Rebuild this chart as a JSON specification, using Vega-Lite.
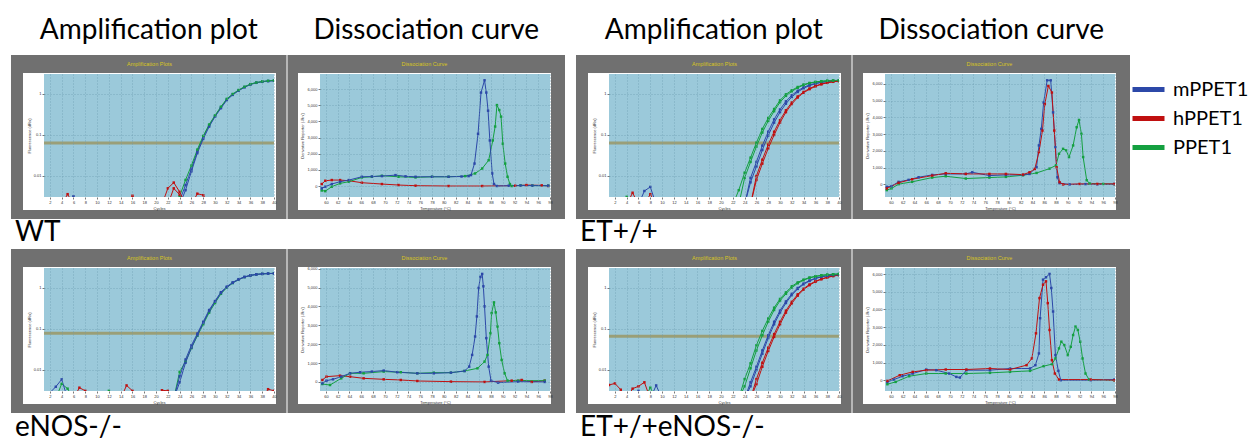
{
"$schema": "https://vega.github.io/schema/vega-lite/v6.json",
"background": "white",
"padding": {"left": 10, "top": 16, "right": 0, "bottom": 0},
"config": {
 "view": {"stroke": null},
 "font": "Lato",
 "title": {"font": "Lato", "fontSize": 28, "fontWeight": "normal", "color": "#000000", "frame": "bounds"},
 "axis": {"labelFontSize": 4, "labelFont": "Liberation Sans", "labelColor": "#333333", "titleFontSize": 4, "titleFont": "Liberation Sans", "titleFontWeight": "normal", "titleColor": "#333333", "domain": false, "tickSize": 2, "tickColor": "#555555", "tickWidth": 0.8, "labelPadding": 1, "titlePadding": 2, "grid": true, "gridColor": "#6b9cb0", "gridDash": [1, 2], "gridWidth": 0.7, "labelFlush": false},
 "legend": {"orient": "none", "legendX": 1086, "legendY": -3, "symbolType": "stroke", "symbolSize": 1024, "symbolStrokeWidth": 5, "labelFont": "Lato", "labelFontSize": 20, "labelColor": "#000000", "rowPadding": -5, "labelOffset": 6, "padding": 0}
},
"datasets": {
 "ampWT": [
  {"g":"mPPET1","r":1,"x":4,"y":0.002},{"g":"mPPET1","r":1,"x":6,"y":0.0032},{"g":"mPPET1","r":1,"x":7,"y":0.002},{"g":"mPPET1","r":1,"x":23,"y":0.002},{"g":"mPPET1","r":1,"x":24,"y":0.0025},{"g":"mPPET1","r":1,"x":25,"y":0.006},{"g":"mPPET1","r":1,"x":26,"y":0.015},{"g":"mPPET1","r":1,"x":27,"y":0.04},{"g":"mPPET1","r":1,"x":28,"y":0.088},{"g":"mPPET1","r":1,"x":29,"y":0.17},{"g":"mPPET1","r":1,"x":30,"y":0.29},{"g":"mPPET1","r":1,"x":31,"y":0.47},{"g":"mPPET1","r":1,"x":32,"y":0.74},{"g":"mPPET1","r":1,"x":33,"y":0.98},{"g":"mPPET1","r":1,"x":34,"y":1.23},{"g":"mPPET1","r":1,"x":35,"y":1.48},{"g":"mPPET1","r":1,"x":36,"y":1.73},{"g":"mPPET1","r":1,"x":37,"y":1.89},{"g":"mPPET1","r":1,"x":38,"y":2.0},{"g":"mPPET1","r":1,"x":39,"y":2.07},{"g":"mPPET1","r":1,"x":40,"y":2.12},
  {"g":"mPPET1","r":2,"x":24,"y":0.002},{"g":"mPPET1","r":2,"x":25,"y":0.0045},{"g":"mPPET1","r":2,"x":26,"y":0.013},{"g":"mPPET1","r":2,"x":27,"y":0.036},{"g":"mPPET1","r":2,"x":28,"y":0.08},{"g":"mPPET1","r":2,"x":29,"y":0.16},{"g":"mPPET1","r":2,"x":30,"y":0.28},{"g":"mPPET1","r":2,"x":31,"y":0.45},{"g":"mPPET1","r":2,"x":32,"y":0.71},{"g":"mPPET1","r":2,"x":33,"y":0.95},{"g":"mPPET1","r":2,"x":34,"y":1.2},{"g":"mPPET1","r":2,"x":35,"y":1.45},{"g":"mPPET1","r":2,"x":36,"y":1.7},{"g":"mPPET1","r":2,"x":37,"y":1.87},{"g":"mPPET1","r":2,"x":38,"y":1.98},{"g":"mPPET1","r":2,"x":39,"y":2.06},{"g":"mPPET1","r":2,"x":40,"y":2.11},
  {"g":"PPET1","r":1,"x":23,"y":0.002},{"g":"PPET1","r":1,"x":24,"y":0.0032},{"g":"PPET1","r":1,"x":25,"y":0.008},{"g":"PPET1","r":1,"x":26,"y":0.018},{"g":"PPET1","r":1,"x":27,"y":0.044},{"g":"PPET1","r":1,"x":28,"y":0.095},{"g":"PPET1","r":1,"x":29,"y":0.18},{"g":"PPET1","r":1,"x":30,"y":0.3},{"g":"PPET1","r":1,"x":31,"y":0.49},{"g":"PPET1","r":1,"x":32,"y":0.76},{"g":"PPET1","r":1,"x":33,"y":1.0},{"g":"PPET1","r":1,"x":34,"y":1.25},{"g":"PPET1","r":1,"x":35,"y":1.5},{"g":"PPET1","r":1,"x":36,"y":1.74},{"g":"PPET1","r":1,"x":37,"y":1.9},{"g":"PPET1","r":1,"x":38,"y":2.02},{"g":"PPET1","r":1,"x":39,"y":2.09},{"g":"PPET1","r":1,"x":40,"y":2.14},
  {"g":"hPPET1","r":1,"x":4,"y":0.002},{"g":"hPPET1","r":1,"x":5,"y":0.0036},{"g":"hPPET1","r":1,"x":6,"y":0.002},{"g":"hPPET1","r":1,"x":15,"y":0.002},{"g":"hPPET1","r":1,"x":16,"y":0.0033},{"g":"hPPET1","r":1,"x":17,"y":0.002},{"g":"hPPET1","r":1,"x":21,"y":0.002},{"g":"hPPET1","r":1,"x":22,"y":0.005},{"g":"hPPET1","r":1,"x":23,"y":0.0069},{"g":"hPPET1","r":1,"x":24,"y":0.0041},{"g":"hPPET1","r":1,"x":25,"y":0.002},{"g":"hPPET1","r":1,"x":26,"y":0.002},{"g":"hPPET1","r":1,"x":27,"y":0.0037},{"g":"hPPET1","r":1,"x":28,"y":0.0034},{"g":"hPPET1","r":1,"x":29,"y":0.002},
  {"g":"hPPET1","r":2,"x":22,"y":0.002},{"g":"hPPET1","r":2,"x":23,"y":0.005},{"g":"hPPET1","r":2,"x":24,"y":0.0035},{"g":"hPPET1","r":2,"x":25,"y":0.002}
 ],
 "ampET": [
  {"g":"mPPET1","r":1,"x":6,"y":0.002},{"g":"mPPET1","r":1,"x":7,"y":0.0043},{"g":"mPPET1","r":1,"x":8,"y":0.0054},{"g":"mPPET1","r":1,"x":9,"y":0.002},{"g":"mPPET1","r":1,"x":24,"y":0.002},{"g":"mPPET1","r":1,"x":25,"y":0.009},{"g":"mPPET1","r":1,"x":26,"y":0.022},{"g":"mPPET1","r":1,"x":27,"y":0.055},{"g":"mPPET1","r":1,"x":28,"y":0.12},{"g":"mPPET1","r":1,"x":29,"y":0.24},{"g":"mPPET1","r":1,"x":30,"y":0.42},{"g":"mPPET1","r":1,"x":31,"y":0.66},{"g":"mPPET1","r":1,"x":32,"y":0.93},{"g":"mPPET1","r":1,"x":33,"y":1.2},{"g":"mPPET1","r":1,"x":34,"y":1.45},{"g":"mPPET1","r":1,"x":35,"y":1.66},{"g":"mPPET1","r":1,"x":36,"y":1.82},{"g":"mPPET1","r":1,"x":37,"y":1.94},{"g":"mPPET1","r":1,"x":38,"y":2.03},{"g":"mPPET1","r":1,"x":39,"y":2.09},{"g":"mPPET1","r":1,"x":40,"y":2.13},
  {"g":"mPPET1","r":2,"x":24,"y":0.002},{"g":"mPPET1","r":2,"x":25,"y":0.007},{"g":"mPPET1","r":2,"x":26,"y":0.017},{"g":"mPPET1","r":2,"x":27,"y":0.043},{"g":"mPPET1","r":2,"x":28,"y":0.097},{"g":"mPPET1","r":2,"x":29,"y":0.2},{"g":"mPPET1","r":2,"x":30,"y":0.36},{"g":"mPPET1","r":2,"x":31,"y":0.58},{"g":"mPPET1","r":2,"x":32,"y":0.85},{"g":"mPPET1","r":2,"x":33,"y":1.12},{"g":"mPPET1","r":2,"x":34,"y":1.38},{"g":"mPPET1","r":2,"x":35,"y":1.6},{"g":"mPPET1","r":2,"x":36,"y":1.78},{"g":"mPPET1","r":2,"x":37,"y":1.91},{"g":"mPPET1","r":2,"x":38,"y":2.0},{"g":"mPPET1","r":2,"x":39,"y":2.07},{"g":"mPPET1","r":2,"x":40,"y":2.12},
  {"g":"hPPET1","r":1,"x":4,"y":0.002},{"g":"hPPET1","r":1,"x":5,"y":0.0039},{"g":"hPPET1","r":1,"x":6,"y":0.002},{"g":"hPPET1","r":1,"x":25,"y":0.002},{"g":"hPPET1","r":1,"x":26,"y":0.01},{"g":"hPPET1","r":1,"x":27,"y":0.025},{"g":"hPPET1","r":1,"x":28,"y":0.058},{"g":"hPPET1","r":1,"x":29,"y":0.12},{"g":"hPPET1","r":1,"x":30,"y":0.23},{"g":"hPPET1","r":1,"x":31,"y":0.4},{"g":"hPPET1","r":1,"x":32,"y":0.62},{"g":"hPPET1","r":1,"x":33,"y":0.87},{"g":"hPPET1","r":1,"x":34,"y":1.12},{"g":"hPPET1","r":1,"x":35,"y":1.36},{"g":"hPPET1","r":1,"x":36,"y":1.57},{"g":"hPPET1","r":1,"x":37,"y":1.75},{"g":"hPPET1","r":1,"x":38,"y":1.89},{"g":"hPPET1","r":1,"x":39,"y":2.0},{"g":"hPPET1","r":1,"x":40,"y":2.08},
  {"g":"hPPET1","r":2,"x":7,"y":0.002},{"g":"hPPET1","r":2,"x":8,"y":0.0036},{"g":"hPPET1","r":2,"x":9,"y":0.002},{"g":"hPPET1","r":2,"x":25,"y":0.002},{"g":"hPPET1","r":2,"x":26,"y":0.008},{"g":"hPPET1","r":2,"x":27,"y":0.02},{"g":"hPPET1","r":2,"x":28,"y":0.047},{"g":"hPPET1","r":2,"x":29,"y":0.1},{"g":"hPPET1","r":2,"x":30,"y":0.2},{"g":"hPPET1","r":2,"x":31,"y":0.36},{"g":"hPPET1","r":2,"x":32,"y":0.57},{"g":"hPPET1","r":2,"x":33,"y":0.82},{"g":"hPPET1","r":2,"x":34,"y":1.07},{"g":"hPPET1","r":2,"x":35,"y":1.31},{"g":"hPPET1","r":2,"x":36,"y":1.53},{"g":"hPPET1","r":2,"x":37,"y":1.72},{"g":"hPPET1","r":2,"x":38,"y":1.87},{"g":"hPPET1","r":2,"x":39,"y":1.98},{"g":"hPPET1","r":2,"x":40,"y":2.06},
  {"g":"PPET1","r":1,"x":3,"y":0.002},{"g":"PPET1","r":1,"x":4,"y":0.0031},{"g":"PPET1","r":1,"x":5,"y":0.002},{"g":"PPET1","r":1,"x":22,"y":0.002},{"g":"PPET1","r":1,"x":23,"y":0.0045},{"g":"PPET1","r":1,"x":24,"y":0.012},{"g":"PPET1","r":1,"x":25,"y":0.028},{"g":"PPET1","r":1,"x":26,"y":0.065},{"g":"PPET1","r":1,"x":27,"y":0.14},{"g":"PPET1","r":1,"x":28,"y":0.26},{"g":"PPET1","r":1,"x":29,"y":0.43},{"g":"PPET1","r":1,"x":30,"y":0.7},{"g":"PPET1","r":1,"x":31,"y":0.98},{"g":"PPET1","r":1,"x":32,"y":1.23},{"g":"PPET1","r":1,"x":33,"y":1.48},{"g":"PPET1","r":1,"x":34,"y":1.7},{"g":"PPET1","r":1,"x":35,"y":1.86},{"g":"PPET1","r":1,"x":36,"y":1.97},{"g":"PPET1","r":1,"x":37,"y":2.05},{"g":"PPET1","r":1,"x":38,"y":2.1},{"g":"PPET1","r":1,"x":39,"y":2.13},{"g":"PPET1","r":1,"x":40,"y":2.15},
  {"g":"PPET1","r":2,"x":23,"y":0.002},{"g":"PPET1","r":2,"x":24,"y":0.009},{"g":"PPET1","r":2,"x":25,"y":0.022},{"g":"PPET1","r":2,"x":26,"y":0.052},{"g":"PPET1","r":2,"x":27,"y":0.115},{"g":"PPET1","r":2,"x":28,"y":0.22},{"g":"PPET1","r":2,"x":29,"y":0.38},{"g":"PPET1","r":2,"x":30,"y":0.63},{"g":"PPET1","r":2,"x":31,"y":0.9},{"g":"PPET1","r":2,"x":32,"y":1.16},{"g":"PPET1","r":2,"x":33,"y":1.42},{"g":"PPET1","r":2,"x":34,"y":1.65},{"g":"PPET1","r":2,"x":35,"y":1.83},{"g":"PPET1","r":2,"x":36,"y":1.95},{"g":"PPET1","r":2,"x":37,"y":2.03},{"g":"PPET1","r":2,"x":38,"y":2.09},{"g":"PPET1","r":2,"x":39,"y":2.12},{"g":"PPET1","r":2,"x":40,"y":2.14}
 ],
 "ampENOS": [
  {"g":"hPPET1","r":1,"x":6,"y":0.002},{"g":"hPPET1","r":1,"x":7,"y":0.0037},{"g":"hPPET1","r":1,"x":8,"y":0.0031},{"g":"hPPET1","r":1,"x":9,"y":0.002},{"g":"hPPET1","r":1,"x":14,"y":0.002},{"g":"hPPET1","r":1,"x":15,"y":0.0042},{"g":"hPPET1","r":1,"x":16,"y":0.0031},{"g":"hPPET1","r":1,"x":17,"y":0.002},{"g":"hPPET1","r":1,"x":20,"y":0.002},{"g":"hPPET1","r":1,"x":21,"y":0.0032},{"g":"hPPET1","r":1,"x":22,"y":0.0031},{"g":"hPPET1","r":1,"x":23,"y":0.002},{"g":"hPPET1","r":1,"x":38,"y":0.002},{"g":"hPPET1","r":1,"x":39,"y":0.0034},{"g":"hPPET1","r":1,"x":40,"y":0.0031},
  {"g":"PPET1","r":1,"x":3,"y":0.002},{"g":"PPET1","r":1,"x":4,"y":0.0046},{"g":"PPET1","r":1,"x":5,"y":0.0035},{"g":"PPET1","r":1,"x":6,"y":0.002},{"g":"PPET1","r":1,"x":11,"y":0.002},{"g":"PPET1","r":1,"x":12,"y":0.0031},{"g":"PPET1","r":1,"x":13,"y":0.002},{"g":"PPET1","r":1,"x":23,"y":0.002},{"g":"PPET1","r":1,"x":24,"y":0.009},{"g":"PPET1","r":1,"x":25,"y":0.016},{"g":"PPET1","r":1,"x":26,"y":0.034},{"g":"PPET1","r":1,"x":27,"y":0.068},{"g":"PPET1","r":1,"x":28,"y":0.13},{"g":"PPET1","r":1,"x":29,"y":0.25},{"g":"PPET1","r":1,"x":30,"y":0.43},{"g":"PPET1","r":1,"x":31,"y":0.72},{"g":"PPET1","r":1,"x":32,"y":1.02},{"g":"PPET1","r":1,"x":33,"y":1.32},{"g":"PPET1","r":1,"x":34,"y":1.6},{"g":"PPET1","r":1,"x":35,"y":1.84},{"g":"PPET1","r":1,"x":36,"y":2.02},{"g":"PPET1","r":1,"x":37,"y":2.14},{"g":"PPET1","r":1,"x":38,"y":2.21},{"g":"PPET1","r":1,"x":39,"y":2.25},{"g":"PPET1","r":1,"x":40,"y":2.28},
  {"g":"mPPET1","r":1,"x":1,"y":0.002},{"g":"mPPET1","r":1,"x":3,"y":0.0039},{"g":"mPPET1","r":1,"x":4,"y":0.0059},{"g":"mPPET1","r":1,"x":5,"y":0.002},{"g":"mPPET1","r":1,"x":23,"y":0.002},{"g":"mPPET1","r":1,"x":24,"y":0.007},{"g":"mPPET1","r":1,"x":25,"y":0.018},{"g":"mPPET1","r":1,"x":26,"y":0.04},{"g":"mPPET1","r":1,"x":27,"y":0.077},{"g":"mPPET1","r":1,"x":28,"y":0.15},{"g":"mPPET1","r":1,"x":29,"y":0.29},{"g":"mPPET1","r":1,"x":30,"y":0.48},{"g":"mPPET1","r":1,"x":31,"y":0.79},{"g":"mPPET1","r":1,"x":32,"y":1.08},{"g":"mPPET1","r":1,"x":33,"y":1.37},{"g":"mPPET1","r":1,"x":34,"y":1.64},{"g":"mPPET1","r":1,"x":35,"y":1.87},{"g":"mPPET1","r":1,"x":36,"y":2.04},{"g":"mPPET1","r":1,"x":37,"y":2.15},{"g":"mPPET1","r":1,"x":38,"y":2.21},{"g":"mPPET1","r":1,"x":39,"y":2.25},{"g":"mPPET1","r":1,"x":40,"y":2.27},
  {"g":"mPPET1","r":2,"x":23,"y":0.002},{"g":"mPPET1","r":2,"x":24,"y":0.005},{"g":"mPPET1","r":2,"x":25,"y":0.015},{"g":"mPPET1","r":2,"x":26,"y":0.035},{"g":"mPPET1","r":2,"x":27,"y":0.07},{"g":"mPPET1","r":2,"x":28,"y":0.14},{"g":"mPPET1","r":2,"x":29,"y":0.27},{"g":"mPPET1","r":2,"x":30,"y":0.46},{"g":"mPPET1","r":2,"x":31,"y":0.75},{"g":"mPPET1","r":2,"x":32,"y":1.04},{"g":"mPPET1","r":2,"x":33,"y":1.33},{"g":"mPPET1","r":2,"x":34,"y":1.6},{"g":"mPPET1","r":2,"x":35,"y":1.84},{"g":"mPPET1","r":2,"x":36,"y":2.01},{"g":"mPPET1","r":2,"x":37,"y":2.13},{"g":"mPPET1","r":2,"x":38,"y":2.2},{"g":"mPPET1","r":2,"x":39,"y":2.24},{"g":"mPPET1","r":2,"x":40,"y":2.26}
 ],
 "ampETE": [
  {"g":"hPPET1","r":1,"x":1,"y":0.0043},{"g":"hPPET1","r":1,"x":2,"y":0.0047},{"g":"hPPET1","r":1,"x":3,"y":0.0033},{"g":"hPPET1","r":1,"x":4,"y":0.002},{"g":"hPPET1","r":1,"x":5,"y":0.0035},{"g":"hPPET1","r":1,"x":6,"y":0.004},{"g":"hPPET1","r":1,"x":7,"y":0.005},{"g":"hPPET1","r":1,"x":8,"y":0.002},{"g":"hPPET1","r":1,"x":25,"y":0.002},{"g":"hPPET1","r":1,"x":26,"y":0.006},{"g":"hPPET1","r":1,"x":27,"y":0.015},{"g":"hPPET1","r":1,"x":28,"y":0.035},{"g":"hPPET1","r":1,"x":29,"y":0.075},{"g":"hPPET1","r":1,"x":30,"y":0.15},{"g":"hPPET1","r":1,"x":31,"y":0.28},{"g":"hPPET1","r":1,"x":32,"y":0.46},{"g":"hPPET1","r":1,"x":33,"y":0.7},{"g":"hPPET1","r":1,"x":34,"y":0.96},{"g":"hPPET1","r":1,"x":35,"y":1.22},{"g":"hPPET1","r":1,"x":36,"y":1.46},{"g":"hPPET1","r":1,"x":37,"y":1.66},{"g":"hPPET1","r":1,"x":38,"y":1.83},{"g":"hPPET1","r":1,"x":39,"y":1.97},{"g":"hPPET1","r":1,"x":40,"y":2.07},
  {"g":"hPPET1","r":2,"x":25,"y":0.002},{"g":"hPPET1","r":2,"x":26,"y":0.0045},{"g":"hPPET1","r":2,"x":27,"y":0.012},{"g":"hPPET1","r":2,"x":28,"y":0.029},{"g":"hPPET1","r":2,"x":29,"y":0.064},{"g":"hPPET1","r":2,"x":30,"y":0.13},{"g":"hPPET1","r":2,"x":31,"y":0.25},{"g":"hPPET1","r":2,"x":32,"y":0.42},{"g":"hPPET1","r":2,"x":33,"y":0.65},{"g":"hPPET1","r":2,"x":34,"y":0.91},{"g":"hPPET1","r":2,"x":35,"y":1.17},{"g":"hPPET1","r":2,"x":36,"y":1.42},{"g":"hPPET1","r":2,"x":37,"y":1.63},{"g":"hPPET1","r":2,"x":38,"y":1.8},{"g":"hPPET1","r":2,"x":39,"y":1.95},{"g":"hPPET1","r":2,"x":40,"y":2.06},
  {"g":"mPPET1","r":1,"x":5,"y":0.002},{"g":"mPPET1","r":1,"x":6,"y":0.0031},{"g":"mPPET1","r":1,"x":7,"y":0.002},{"g":"mPPET1","r":1,"x":8,"y":0.002},{"g":"mPPET1","r":1,"x":9,"y":0.0042},{"g":"mPPET1","r":1,"x":10,"y":0.002},{"g":"mPPET1","r":1,"x":24,"y":0.002},{"g":"mPPET1","r":1,"x":25,"y":0.005},{"g":"mPPET1","r":1,"x":26,"y":0.012},{"g":"mPPET1","r":1,"x":27,"y":0.03},{"g":"mPPET1","r":1,"x":28,"y":0.07},{"g":"mPPET1","r":1,"x":29,"y":0.15},{"g":"mPPET1","r":1,"x":30,"y":0.28},{"g":"mPPET1","r":1,"x":31,"y":0.47},{"g":"mPPET1","r":1,"x":32,"y":0.72},{"g":"mPPET1","r":1,"x":33,"y":1.0},{"g":"mPPET1","r":1,"x":34,"y":1.28},{"g":"mPPET1","r":1,"x":35,"y":1.52},{"g":"mPPET1","r":1,"x":36,"y":1.73},{"g":"mPPET1","r":1,"x":37,"y":1.88},{"g":"mPPET1","r":1,"x":38,"y":2.0},{"g":"mPPET1","r":1,"x":39,"y":2.08},{"g":"mPPET1","r":1,"x":40,"y":2.14},
  {"g":"mPPET1","r":2,"x":24,"y":0.002},{"g":"mPPET1","r":2,"x":25,"y":0.004},{"g":"mPPET1","r":2,"x":26,"y":0.01},{"g":"mPPET1","r":2,"x":27,"y":0.025},{"g":"mPPET1","r":2,"x":28,"y":0.06},{"g":"mPPET1","r":2,"x":29,"y":0.13},{"g":"mPPET1","r":2,"x":30,"y":0.25},{"g":"mPPET1","r":2,"x":31,"y":0.43},{"g":"mPPET1","r":2,"x":32,"y":0.67},{"g":"mPPET1","r":2,"x":33,"y":0.95},{"g":"mPPET1","r":2,"x":34,"y":1.23},{"g":"mPPET1","r":2,"x":35,"y":1.48},{"g":"mPPET1","r":2,"x":36,"y":1.7},{"g":"mPPET1","r":2,"x":37,"y":1.86},{"g":"mPPET1","r":2,"x":38,"y":1.98},{"g":"mPPET1","r":2,"x":39,"y":2.07},{"g":"mPPET1","r":2,"x":40,"y":2.13},
  {"g":"PPET1","r":1,"x":7,"y":0.002},{"g":"PPET1","r":1,"x":8,"y":0.0037},{"g":"PPET1","r":1,"x":9,"y":0.002},{"g":"PPET1","r":1,"x":23,"y":0.002},{"g":"PPET1","r":1,"x":24,"y":0.006},{"g":"PPET1","r":1,"x":25,"y":0.0145},{"g":"PPET1","r":1,"x":26,"y":0.04},{"g":"PPET1","r":1,"x":27,"y":0.09},{"g":"PPET1","r":1,"x":28,"y":0.18},{"g":"PPET1","r":1,"x":29,"y":0.33},{"g":"PPET1","r":1,"x":30,"y":0.54},{"g":"PPET1","r":1,"x":31,"y":0.78},{"g":"PPET1","r":1,"x":32,"y":1.1},{"g":"PPET1","r":1,"x":33,"y":1.37},{"g":"PPET1","r":1,"x":34,"y":1.6},{"g":"PPET1","r":1,"x":35,"y":1.8},{"g":"PPET1","r":1,"x":36,"y":1.93},{"g":"PPET1","r":1,"x":37,"y":2.04},{"g":"PPET1","r":1,"x":38,"y":2.11},{"g":"PPET1","r":1,"x":39,"y":2.16},{"g":"PPET1","r":1,"x":40,"y":2.2},
  {"g":"PPET1","r":2,"x":23,"y":0.002},{"g":"PPET1","r":2,"x":24,"y":0.004},{"g":"PPET1","r":2,"x":25,"y":0.011},{"g":"PPET1","r":2,"x":26,"y":0.03},{"g":"PPET1","r":2,"x":27,"y":0.07},{"g":"PPET1","r":2,"x":28,"y":0.15},{"g":"PPET1","r":2,"x":29,"y":0.29},{"g":"PPET1","r":2,"x":30,"y":0.49},{"g":"PPET1","r":2,"x":31,"y":0.72},{"g":"PPET1","r":2,"x":32,"y":1.02},{"g":"PPET1","r":2,"x":33,"y":1.3},{"g":"PPET1","r":2,"x":34,"y":1.55},{"g":"PPET1","r":2,"x":35,"y":1.76},{"g":"PPET1","r":2,"x":36,"y":1.9},{"g":"PPET1","r":2,"x":37,"y":2.02},{"g":"PPET1","r":2,"x":38,"y":2.1},{"g":"PPET1","r":2,"x":39,"y":2.15},{"g":"PPET1","r":2,"x":40,"y":2.19}
 ],
 "disWT": [
  {"g":"hPPET1","r":1,"x":59.3,"y":123},{"g":"hPPET1","r":1,"x":59.9,"y":327},{"g":"hPPET1","r":1,"x":61.0,"y":369},{"g":"hPPET1","r":1,"x":62.4,"y":369},{"g":"hPPET1","r":1,"x":63.9,"y":327},{"g":"hPPET1","r":1,"x":66.1,"y":205},{"g":"hPPET1","r":1,"x":69.5,"y":123},{"g":"hPPET1","r":1,"x":72.3,"y":61},{"g":"hPPET1","r":1,"x":75.2,"y":20},{"g":"hPPET1","r":1,"x":80.8,"y":0},{"g":"hPPET1","r":1,"x":86.5,"y":0},{"g":"hPPET1","r":1,"x":92.1,"y":20},{"g":"hPPET1","r":1,"x":94.0,"y":60},{"g":"hPPET1","r":1,"x":96.6,"y":41},{"g":"hPPET1","r":1,"x":97.7,"y":0},
  {"g":"PPET1","r":1,"x":59.3,"y":-276},{"g":"PPET1","r":1,"x":59.9,"y":-317},{"g":"PPET1","r":1,"x":61.0,"y":-41},{"g":"PPET1","r":1,"x":62.4,"y":164},{"g":"PPET1","r":1,"x":63.9,"y":267},{"g":"PPET1","r":1,"x":66.1,"y":532},{"g":"PPET1","r":1,"x":67.8,"y":573},{"g":"PPET1","r":1,"x":69.5,"y":635},{"g":"PPET1","r":1,"x":72.3,"y":573},{"g":"PPET1","r":1,"x":75.2,"y":532},{"g":"PPET1","r":1,"x":78.0,"y":573},{"g":"PPET1","r":1,"x":80.8,"y":573},{"g":"PPET1","r":1,"x":83.6,"y":614},{"g":"PPET1","r":1,"x":85.3,"y":778},{"g":"PPET1","r":1,"x":86.5,"y":1085},{"g":"PPET1","r":1,"x":87.6,"y":1597},{"g":"PPET1","r":1,"x":88.3,"y":2825},{"g":"PPET1","r":1,"x":88.7,"y":3686},{"g":"PPET1","r":1,"x":89.0,"y":5014},{"g":"PPET1","r":1,"x":89.4,"y":4708},{"g":"PPET1","r":1,"x":89.7,"y":4298},{"g":"PPET1","r":1,"x":90.0,"y":2620},{"g":"PPET1","r":1,"x":90.4,"y":1392},{"g":"PPET1","r":1,"x":90.8,"y":573},{"g":"PPET1","r":1,"x":91.2,"y":123},{"g":"PPET1","r":1,"x":91.5,"y":0},{"g":"PPET1","r":1,"x":93.0,"y":40},{"g":"PPET1","r":1,"x":95.0,"y":30},{"g":"PPET1","r":1,"x":97.7,"y":20},
  {"g":"mPPET1","r":1,"x":59.3,"y":-143},{"g":"mPPET1","r":1,"x":59.9,"y":-41},{"g":"mPPET1","r":1,"x":61.0,"y":123},{"g":"mPPET1","r":1,"x":62.4,"y":267},{"g":"mPPET1","r":1,"x":63.9,"y":369},{"g":"mPPET1","r":1,"x":66.1,"y":573},{"g":"mPPET1","r":1,"x":67.8,"y":590},{"g":"mPPET1","r":1,"x":69.5,"y":614},{"g":"mPPET1","r":1,"x":71.8,"y":676},{"g":"mPPET1","r":1,"x":73.5,"y":600},{"g":"mPPET1","r":1,"x":75.2,"y":573},{"g":"mPPET1","r":1,"x":78.0,"y":573},{"g":"mPPET1","r":1,"x":80.8,"y":573},{"g":"mPPET1","r":1,"x":83.0,"y":590},{"g":"mPPET1","r":1,"x":84.2,"y":614},{"g":"mPPET1","r":1,"x":84.6,"y":676},{"g":"mPPET1","r":1,"x":85.2,"y":1392},{"g":"mPPET1","r":1,"x":85.8,"y":3235},{"g":"mPPET1","r":1,"x":86.3,"y":5790},{"g":"mPPET1","r":1,"x":86.9,"y":6550},{"g":"mPPET1","r":1,"x":87.2,"y":5790},{"g":"mPPET1","r":1,"x":87.5,"y":4667},{"g":"mPPET1","r":1,"x":87.8,"y":2825},{"g":"mPPET1","r":1,"x":88.2,"y":778},{"g":"mPPET1","r":1,"x":88.5,"y":123},{"g":"mPPET1","r":1,"x":89.0,"y":0},{"g":"mPPET1","r":1,"x":91.0,"y":20},{"g":"mPPET1","r":1,"x":93.0,"y":30},{"g":"mPPET1","r":1,"x":95.0,"y":25},{"g":"mPPET1","r":1,"x":97.7,"y":20}
 ],
 "disET": [
  {"g":"PPET1","r":1,"x":59.3,"y":-339},{"g":"PPET1","r":1,"x":60.1,"y":-240},{"g":"PPET1","r":1,"x":61.3,"y":16},{"g":"PPET1","r":1,"x":63.6,"y":154},{"g":"PPET1","r":1,"x":67.0,"y":410},{"g":"PPET1","r":1,"x":69.3,"y":489},{"g":"PPET1","r":1,"x":72.7,"y":351},{"g":"PPET1","r":1,"x":76.7,"y":410},{"g":"PPET1","r":1,"x":79.5,"y":450},{"g":"PPET1","r":1,"x":82.4,"y":548},{"g":"PPET1","r":1,"x":84.7,"y":686},{"g":"PPET1","r":1,"x":86.9,"y":942},{"g":"PPET1","r":1,"x":88.0,"y":1139},{"g":"PPET1","r":1,"x":88.5,"y":1829},{"g":"PPET1","r":1,"x":89.2,"y":2125},{"g":"PPET1","r":1,"x":89.7,"y":2031},{"g":"PPET1","r":1,"x":90.2,"y":1632},{"g":"PPET1","r":1,"x":90.9,"y":2327},{"g":"PPET1","r":1,"x":91.5,"y":3413},{"g":"PPET1","r":1,"x":91.9,"y":3847},{"g":"PPET1","r":1,"x":92.3,"y":3018},{"g":"PPET1","r":1,"x":92.6,"y":1632},{"g":"PPET1","r":1,"x":93.2,"y":252},{"g":"PPET1","r":1,"x":93.7,"y":56},{"g":"PPET1","r":1,"x":96.0,"y":30},{"g":"PPET1","r":1,"x":98.0,"y":16},
  {"g":"mPPET1","r":1,"x":59.3,"y":-142},{"g":"mPPET1","r":1,"x":60.1,"y":-103},{"g":"mPPET1","r":1,"x":61.3,"y":154},{"g":"mPPET1","r":1,"x":63.0,"y":272},{"g":"mPPET1","r":1,"x":64.7,"y":430},{"g":"mPPET1","r":1,"x":67.0,"y":568},{"g":"mPPET1","r":1,"x":69.3,"y":627},{"g":"mPPET1","r":1,"x":72.7,"y":627},{"g":"mPPET1","r":1,"x":73.8,"y":725},{"g":"mPPET1","r":1,"x":76.7,"y":529},{"g":"mPPET1","r":1,"x":79.5,"y":568},{"g":"mPPET1","r":1,"x":82.4,"y":568},{"g":"mPPET1","r":1,"x":83.5,"y":627},{"g":"mPPET1","r":1,"x":84.7,"y":1022},{"g":"mPPET1","r":1,"x":85.1,"y":2327},{"g":"mPPET1","r":1,"x":85.5,"y":3314},{"g":"mPPET1","r":1,"x":85.9,"y":4891},{"g":"mPPET1","r":1,"x":86.5,"y":6213},{"g":"mPPET1","r":1,"x":87.1,"y":6213},{"g":"mPPET1","r":1,"x":87.5,"y":4300},{"g":"mPPET1","r":1,"x":87.9,"y":2228},{"g":"mPPET1","r":1,"x":88.2,"y":430},{"g":"mPPET1","r":1,"x":88.6,"y":75},{"g":"mPPET1","r":1,"x":90.3,"y":0},{"g":"mPPET1","r":1,"x":93.0,"y":20},{"g":"mPPET1","r":1,"x":95.0,"y":10},{"g":"mPPET1","r":1,"x":97.9,"y":20},
  {"g":"hPPET1","r":1,"x":59.3,"y":-240},{"g":"hPPET1","r":1,"x":61.3,"y":95},{"g":"hPPET1","r":1,"x":63.6,"y":311},{"g":"hPPET1","r":1,"x":67.0,"y":529},{"g":"hPPET1","r":1,"x":69.3,"y":666},{"g":"hPPET1","r":1,"x":72.7,"y":627},{"g":"hPPET1","r":1,"x":76.7,"y":627},{"g":"hPPET1","r":1,"x":79.5,"y":627},{"g":"hPPET1","r":1,"x":82.4,"y":587},{"g":"hPPET1","r":1,"x":83.5,"y":725},{"g":"hPPET1","r":1,"x":84.4,"y":922},{"g":"hPPET1","r":1,"x":85.1,"y":1933},{"g":"hPPET1","r":1,"x":85.7,"y":3215},{"g":"hPPET1","r":1,"x":86.1,"y":4793},{"g":"hPPET1","r":1,"x":86.7,"y":5879},{"g":"hPPET1","r":1,"x":87.3,"y":5485},{"g":"hPPET1","r":1,"x":87.7,"y":3215},{"g":"hPPET1","r":1,"x":88.1,"y":1022},{"g":"hPPET1","r":1,"x":88.6,"y":134},{"g":"hPPET1","r":1,"x":89.2,"y":0},{"g":"hPPET1","r":1,"x":92.0,"y":30},{"g":"hPPET1","r":1,"x":95.0,"y":30},{"g":"hPPET1","r":1,"x":97.9,"y":30}
 ],
 "disENOS": [
  {"g":"hPPET1","r":1,"x":59.4,"y":104},{"g":"hPPET1","r":1,"x":60.1,"y":280},{"g":"hPPET1","r":1,"x":62.4,"y":333},{"g":"hPPET1","r":1,"x":64.1,"y":280},{"g":"hPPET1","r":1,"x":66.4,"y":191},{"g":"hPPET1","r":1,"x":69.8,"y":138},{"g":"hPPET1","r":1,"x":72.7,"y":104},{"g":"hPPET1","r":1,"x":75.5,"y":51},{"g":"hPPET1","r":1,"x":81.2,"y":16},{"g":"hPPET1","r":1,"x":86.9,"y":0},{"g":"hPPET1","r":1,"x":91.5,"y":69},{"g":"hPPET1","r":1,"x":93.2,"y":104},{"g":"hPPET1","r":1,"x":94.9,"y":0},{"g":"hPPET1","r":1,"x":97.1,"y":69},
  {"g":"PPET1","r":1,"x":59.4,"y":-110},{"g":"PPET1","r":1,"x":60.7,"y":-163},{"g":"PPET1","r":1,"x":62.6,"y":191},{"g":"PPET1","r":1,"x":64.1,"y":457},{"g":"PPET1","r":1,"x":66.4,"y":457},{"g":"PPET1","r":1,"x":69.8,"y":550},{"g":"PPET1","r":1,"x":72.7,"y":514},{"g":"PPET1","r":1,"x":75.5,"y":457},{"g":"PPET1","r":1,"x":78.3,"y":493},{"g":"PPET1","r":1,"x":81.2,"y":493},{"g":"PPET1","r":1,"x":83.5,"y":580},{"g":"PPET1","r":1,"x":85.7,"y":722},{"g":"PPET1","r":1,"x":86.9,"y":1077},{"g":"PPET1","r":1,"x":87.4,"y":1433},{"g":"PPET1","r":1,"x":87.9,"y":2586},{"g":"PPET1","r":1,"x":88.1,"y":3650},{"g":"PPET1","r":1,"x":88.5,"y":4218},{"g":"PPET1","r":1,"x":88.8,"y":3686},{"g":"PPET1","r":1,"x":89.1,"y":2941},{"g":"PPET1","r":1,"x":89.4,"y":2055},{"g":"PPET1","r":1,"x":89.8,"y":1167},{"g":"PPET1","r":1,"x":90.3,"y":457},{"g":"PPET1","r":1,"x":90.8,"y":69},{"g":"PPET1","r":1,"x":92.6,"y":69},{"g":"PPET1","r":1,"x":97.1,"y":69},
  {"g":"mPPET1","r":1,"x":59.4,"y":-74},{"g":"mPPET1","r":1,"x":60.1,"y":69},{"g":"mPPET1","r":1,"x":61.2,"y":138},{"g":"mPPET1","r":1,"x":62.6,"y":280},{"g":"mPPET1","r":1,"x":64.1,"y":457},{"g":"mPPET1","r":1,"x":65.8,"y":514},{"g":"mPPET1","r":1,"x":67.8,"y":550},{"g":"mPPET1","r":1,"x":69.8,"y":603},{"g":"mPPET1","r":1,"x":72.1,"y":514},{"g":"mPPET1","r":1,"x":75.5,"y":457},{"g":"mPPET1","r":1,"x":78.3,"y":457},{"g":"mPPET1","r":1,"x":81.2,"y":493},{"g":"mPPET1","r":1,"x":83.5,"y":580},{"g":"mPPET1","r":1,"x":84.3,"y":812},{"g":"mPPET1","r":1,"x":84.8,"y":1433},{"g":"mPPET1","r":1,"x":85.3,"y":2409},{"g":"mPPET1","r":1,"x":85.6,"y":3473},{"g":"mPPET1","r":1,"x":85.9,"y":4981},{"g":"mPPET1","r":1,"x":86.2,"y":5567},{"g":"mPPET1","r":1,"x":86.5,"y":5727},{"g":"mPPET1","r":1,"x":86.7,"y":5070},{"g":"mPPET1","r":1,"x":86.9,"y":4006},{"g":"mPPET1","r":1,"x":87.2,"y":2321},{"g":"mPPET1","r":1,"x":87.6,"y":812},{"g":"mPPET1","r":1,"x":88.0,"y":69},{"g":"mPPET1","r":1,"x":89.2,"y":-37},{"g":"mPPET1","r":1,"x":92.6,"y":16},{"g":"mPPET1","r":1,"x":97.1,"y":0}
 ],
 "disETE": [
  {"g":"PPET1","r":1,"x":59.4,"y":-227},{"g":"PPET1","r":1,"x":60.8,"y":-97},{"g":"PPET1","r":1,"x":63.1,"y":225},{"g":"PPET1","r":1,"x":66.0,"y":377},{"g":"PPET1","r":1,"x":69.3,"y":377},{"g":"PPET1","r":1,"x":72.8,"y":377},{"g":"PPET1","r":1,"x":76.8,"y":415},{"g":"PPET1","r":1,"x":80.2,"y":471},{"g":"PPET1","r":1,"x":83.6,"y":528},{"g":"PPET1","r":1,"x":85.9,"y":793},{"g":"PPET1","r":1,"x":87.3,"y":907},{"g":"PPET1","r":1,"x":87.9,"y":1229},{"g":"PPET1","r":1,"x":88.5,"y":1797},{"g":"PPET1","r":1,"x":88.9,"y":2176},{"g":"PPET1","r":1,"x":89.4,"y":1987},{"g":"PPET1","r":1,"x":90.0,"y":1418},{"g":"PPET1","r":1,"x":90.5,"y":1891},{"g":"PPET1","r":1,"x":90.9,"y":2554},{"g":"PPET1","r":1,"x":91.3,"y":3030},{"g":"PPET1","r":1,"x":91.7,"y":2839},{"g":"PPET1","r":1,"x":92.1,"y":2176},{"g":"PPET1","r":1,"x":92.5,"y":1229},{"g":"PPET1","r":1,"x":93.0,"y":377},{"g":"PPET1","r":1,"x":93.6,"y":36},{"g":"PPET1","r":1,"x":97.9,"y":0},
  {"g":"mPPET1","r":1,"x":59.4,"y":-97},{"g":"mPPET1","r":1,"x":60.5,"y":36},{"g":"mPPET1","r":1,"x":62.0,"y":225},{"g":"mPPET1","r":1,"x":63.7,"y":377},{"g":"mPPET1","r":1,"x":66.0,"y":604},{"g":"mPPET1","r":1,"x":67.7,"y":566},{"g":"mPPET1","r":1,"x":69.9,"y":377},{"g":"mPPET1","r":1,"x":71.1,"y":187},{"g":"mPPET1","r":1,"x":71.7,"y":150},{"g":"mPPET1","r":1,"x":72.8,"y":566},{"g":"mPPET1","r":1,"x":76.8,"y":566},{"g":"mPPET1","r":1,"x":80.2,"y":661},{"g":"mPPET1","r":1,"x":83.6,"y":661},{"g":"mPPET1","r":1,"x":84.5,"y":850},{"g":"mPPET1","r":1,"x":85.1,"y":1513},{"g":"mPPET1","r":1,"x":85.3,"y":3503},{"g":"mPPET1","r":1,"x":85.8,"y":5682},{"g":"mPPET1","r":1,"x":86.3,"y":5815},{"g":"mPPET1","r":1,"x":86.9,"y":6004},{"g":"mPPET1","r":1,"x":87.2,"y":5209},{"g":"mPPET1","r":1,"x":87.5,"y":3882},{"g":"mPPET1","r":1,"x":87.9,"y":1418},{"g":"mPPET1","r":1,"x":88.4,"y":528},{"g":"mPPET1","r":1,"x":88.8,"y":0},{"g":"mPPET1","r":1,"x":93.9,"y":0},{"g":"mPPET1","r":1,"x":97.9,"y":36},
  {"g":"hPPET1","r":1,"x":59.4,"y":-40},{"g":"hPPET1","r":1,"x":61.5,"y":282},{"g":"hPPET1","r":1,"x":63.7,"y":471},{"g":"hPPET1","r":1,"x":66.0,"y":566},{"g":"hPPET1","r":1,"x":69.3,"y":604},{"g":"hPPET1","r":1,"x":72.8,"y":604},{"g":"hPPET1","r":1,"x":76.8,"y":661},{"g":"hPPET1","r":1,"x":80.2,"y":604},{"g":"hPPET1","r":1,"x":83.0,"y":850},{"g":"hPPET1","r":1,"x":83.9,"y":1229},{"g":"hPPET1","r":1,"x":84.6,"y":2649},{"g":"hPPET1","r":1,"x":85.2,"y":4638},{"g":"hPPET1","r":1,"x":85.8,"y":5397},{"g":"hPPET1","r":1,"x":86.3,"y":5587},{"g":"hPPET1","r":1,"x":86.6,"y":4355},{"g":"hPPET1","r":1,"x":86.9,"y":2839},{"g":"hPPET1","r":1,"x":87.3,"y":1134},{"g":"hPPET1","r":1,"x":87.8,"y":377},{"g":"hPPET1","r":1,"x":88.5,"y":36},{"g":"hPPET1","r":1,"x":93.9,"y":36},{"g":"hPPET1","r":1,"x":97.9,"y":0}
 ]
},
"spacing": 0,
"vconcat": [
 {"spacing": 9, "hconcat": [
  {"title": {"text": "WT", "orient": "bottom", "anchor": "start", "dx": 4, "offset": 0}, "spacing": 0, "hconcat": [
   {"title": {"text": "Amplification plot", "offset": 10}, "width": 230, "height": 123, "layer": [
    {"data": {"values": [{}]}, "mark": {"type": "rect", "color": "#707070"}, "encoding": {"x": {"datum": -4.5957, "type": "quantitative", "scale": {"domain": [1, 40], "nice": false, "zero": false}, "axis": {"zindex": 1, "values": [2,4,6,8,10,12,14,16,18,20,22,24,26,28,30,32,34,36,38,40], "title": "Cycles"}}, "x2": {"datum": 42.1196}, "y": {"datum": 8.9236, "type": "quantitative", "scale": {"type": "log", "domain": [0.00307, 3.07], "nice": false}, "axis": {"zindex": 1, "values": [0.01, 0.1, 1], "format": "~g", "title": "Fluorescence (dRn)"}}, "y2": {"datum": 0.00089236}}},
    {"data": {"values": [{}]}, "mark": {"type": "rect", "color": "#ffffff"}, "encoding": {"x": {"datum": -2.5609, "type": "quantitative", "scale": {"domain": [1, 40], "nice": false, "zero": false}, "axis": {"zindex": 1, "values": [2,4,6,8,10,12,14,16,18,20,22,24,26,28,30,32,34,36,38,40], "title": "Cycles"}}, "x2": {"datum": 40.3391}, "y": {"datum": 3.2474, "type": "quantitative", "scale": {"type": "log", "domain": [0.00307, 3.07], "nice": false}, "axis": {"zindex": 1, "values": [0.01, 0.1, 1], "format": "~g", "title": "Fluorescence (dRn)"}}, "y2": {"datum": 0.0014796}}},
    {"data": {"values": [{}]}, "mark": {"type": "rect", "color": "#9bc9da"}, "encoding": {"x": {"datum": 1, "type": "quantitative", "scale": {"domain": [1, 40], "nice": false, "zero": false}, "axis": {"zindex": 1, "values": [2,4,6,8,10,12,14,16,18,20,22,24,26,28,30,32,34,36,38,40], "title": "Cycles"}}, "x2": {"datum": 40}, "y": {"datum": 3.07, "type": "quantitative", "scale": {"type": "log", "domain": [0.00307, 3.07], "nice": false}, "axis": {"zindex": 1, "values": [0.01, 0.1, 1], "format": "~g", "title": "Fluorescence (dRn)"}}, "y2": {"datum": 0.00307}}},
    {"data": {"values": [{}]}, "mark": {"type": "rule", "color": "#9a9f78", "strokeWidth": 3}, "encoding": {"y": {"datum": 0.0638, "type": "quantitative", "scale": {"type": "log", "domain": [0.00307, 3.07], "nice": false}, "axis": {"zindex": 1, "values": [0.01, 0.1, 1], "format": "~g", "title": "Fluorescence (dRn)"}}}},
    {"data": {"values": [{}]}, "mark": {"type": "text", "text": "Amplification Plots", "color": "#d8c61e", "font": "Liberation Sans", "fontSize": 5.5, "align": "center", "baseline": "middle"}, "encoding": {"x": {"datum": 18.889, "type": "quantitative", "scale": {"domain": [1, 40], "nice": false, "zero": false}, "axis": {"zindex": 1, "values": [2,4,6,8,10,12,14,16,18,20,22,24,26,28,30,32,34,36,38,40], "title": "Cycles"}}, "y": {"datum": 5.3834, "type": "quantitative", "scale": {"type": "log", "domain": [0.00307, 3.07], "nice": false}, "axis": {"zindex": 1, "values": [0.01, 0.1, 1], "format": "~g", "title": "Fluorescence (dRn)"}}}},
    {"data": {"name": "ampWT"}, "mark": {"type": "line", "clip": true, "strokeWidth": 1}, "encoding": {"x": {"field": "x", "type": "quantitative", "scale": {"domain": [1, 40], "nice": false, "zero": false}, "axis": {"zindex": 1, "values": [2,4,6,8,10,12,14,16,18,20,22,24,26,28,30,32,34,36,38,40], "title": "Cycles"}}, "y": {"field": "y", "type": "quantitative", "scale": {"type": "log", "domain": [0.00307, 3.07], "nice": false}, "axis": {"zindex": 1, "values": [0.01, 0.1, 1], "format": "~g", "title": "Fluorescence (dRn)"}}, "color": {"field": "g", "type": "nominal", "title": null, "scale": {"domain": ["mPPET1", "hPPET1", "PPET1"], "range": ["#2c48a8", "#c01010", "#14a040"]}}, "detail": {"field": "r"}}},
    {"data": {"name": "ampWT"}, "mark": {"type": "square", "clip": true, "size": 6, "opacity": 1}, "encoding": {"x": {"field": "x", "type": "quantitative", "scale": {"domain": [1, 40], "nice": false, "zero": false}, "axis": {"zindex": 1, "values": [2,4,6,8,10,12,14,16,18,20,22,24,26,28,30,32,34,36,38,40], "title": "Cycles"}}, "y": {"field": "y", "type": "quantitative", "scale": {"type": "log", "domain": [0.00307, 3.07], "nice": false}, "axis": {"zindex": 1, "values": [0.01, 0.1, 1], "format": "~g", "title": "Fluorescence (dRn)"}}, "color": {"field": "g", "type": "nominal", "title": null, "scale": {"domain": ["mPPET1", "hPPET1", "PPET1"], "range": ["#2c48a8", "#c01010", "#14a040"]}}}}
   ]},
   {"title": {"text": "Dissociation curve", "offset": 10}, "width": 230, "height": 123, "layer": [
    {"data": {"values": [{}]}, "mark": {"type": "rect", "color": "#707070"}, "encoding": {"x": {"datum": 53.4891, "type": "quantitative", "scale": {"domain": [59, 98], "nice": false, "zero": false}, "axis": {"zindex": 1, "values": [60,62,64,66,68,70,72,74,76,78,80,82,84,86,88,90,92,94,96,98], "title": "Temperature (°C)"}}, "x2": {"datum": 100.5435}, "y": {"datum": 8117.1, "type": "quantitative", "scale": {"domain": [-680, 6940], "nice": false, "zero": false}, "axis": {"zindex": 1, "values": [0,1000,2000,3000,4000,5000,6000], "title": "Derivative Reporter (-Rn')"}}, "y2": {"datum": -2042.9}}},
    {"data": {"values": [{}]}, "mark": {"type": "rect", "color": "#ffffff"}, "encoding": {"x": {"datum": 55.2696, "type": "quantitative", "scale": {"domain": [59, 98], "nice": false, "zero": false}, "axis": {"zindex": 1, "values": [60,62,64,66,68,70,72,74,76,78,80,82,84,86,88,90,92,94,96,98], "title": "Temperature (°C)"}}, "x2": {"datum": 98.1696}, "y": {"datum": 7002, "type": "quantitative", "scale": {"domain": [-680, 6940], "nice": false, "zero": false}, "axis": {"zindex": 1, "values": [0,1000,2000,3000,4000,5000,6000], "title": "Derivative Reporter (-Rn')"}}, "y2": {"datum": -1485.4}}},
    {"data": {"values": [{}]}, "mark": {"type": "rect", "color": "#9bc9da"}, "encoding": {"x": {"datum": 59, "type": "quantitative", "scale": {"domain": [59, 98], "nice": false, "zero": false}, "axis": {"zindex": 1, "values": [60,62,64,66,68,70,72,74,76,78,80,82,84,86,88,90,92,94,96,98], "title": "Temperature (°C)"}}, "x2": {"datum": 98}, "y": {"datum": 6940, "type": "quantitative", "scale": {"domain": [-680, 6940], "nice": false, "zero": false}, "axis": {"zindex": 1, "values": [0,1000,2000,3000,4000,5000,6000], "title": "Derivative Reporter (-Rn')"}}, "y2": {"datum": -680}}},
    {"data": {"values": [{}]}, "mark": {"type": "text", "text": "Dissociation Curve", "color": "#d8c61e", "font": "Liberation Sans", "fontSize": 5.5, "align": "center", "baseline": "middle"}, "encoding": {"x": {"datum": 76.72, "type": "quantitative", "scale": {"domain": [59, 98], "nice": false, "zero": false}, "axis": {"zindex": 1, "values": [60,62,64,66,68,70,72,74,76,78,80,82,84,86,88,90,92,94,96,98], "title": "Temperature (°C)"}}, "y": {"datum": 7559.5, "type": "quantitative", "scale": {"domain": [-680, 6940], "nice": false, "zero": false}, "axis": {"zindex": 1, "values": [0,1000,2000,3000,4000,5000,6000], "title": "Derivative Reporter (-Rn')"}}}},
    {"data": {"name": "disWT"}, "mark": {"type": "line", "clip": true, "strokeWidth": 1}, "encoding": {"x": {"field": "x", "type": "quantitative", "scale": {"domain": [59, 98], "nice": false, "zero": false}, "axis": {"zindex": 1, "values": [60,62,64,66,68,70,72,74,76,78,80,82,84,86,88,90,92,94,96,98], "title": "Temperature (°C)"}}, "y": {"field": "y", "type": "quantitative", "scale": {"domain": [-680, 6940], "nice": false, "zero": false}, "axis": {"zindex": 1, "values": [0,1000,2000,3000,4000,5000,6000], "title": "Derivative Reporter (-Rn')"}}, "color": {"field": "g", "type": "nominal", "title": null, "scale": {"domain": ["mPPET1", "hPPET1", "PPET1"], "range": ["#2c48a8", "#c01010", "#14a040"]}}, "detail": {"field": "r"}}},
    {"data": {"name": "disWT"}, "mark": {"type": "square", "clip": true, "size": 6, "opacity": 1}, "encoding": {"x": {"field": "x", "type": "quantitative", "scale": {"domain": [59, 98], "nice": false, "zero": false}, "axis": {"zindex": 1, "values": [60,62,64,66,68,70,72,74,76,78,80,82,84,86,88,90,92,94,96,98], "title": "Temperature (°C)"}}, "y": {"field": "y", "type": "quantitative", "scale": {"domain": [-680, 6940], "nice": false, "zero": false}, "axis": {"zindex": 1, "values": [0,1000,2000,3000,4000,5000,6000], "title": "Derivative Reporter (-Rn')"}}, "color": {"field": "g", "type": "nominal", "title": null, "scale": {"domain": ["mPPET1", "hPPET1", "PPET1"], "range": ["#2c48a8", "#c01010", "#14a040"]}}}}
   ]}
  ]},
  {"title": {"text": "ET+/+", "orient": "bottom", "anchor": "start", "dx": 4, "offset": 0}, "spacing": 0, "hconcat": [
   {"title": {"text": "Amplification plot", "offset": 10}, "width": 230, "height": 123, "layer": [
    {"data": {"values": [{}]}, "mark": {"type": "rect", "color": "#707070"}, "encoding": {"x": {"datum": -4.5957, "type": "quantitative", "scale": {"domain": [1, 40], "nice": false, "zero": false}, "axis": {"zindex": 1, "values": [2,4,6,8,10,12,14,16,18,20,22,24,26,28,30,32,34,36,38,40], "title": "Cycles"}}, "x2": {"datum": 42.1196}, "y": {"datum": 8.9236, "type": "quantitative", "scale": {"type": "log", "domain": [0.00307, 3.07], "nice": false}, "axis": {"zindex": 1, "values": [0.01, 0.1, 1], "format": "~g", "title": "Fluorescence (dRn)"}}, "y2": {"datum": 0.00089236}}},
    {"data": {"values": [{}]}, "mark": {"type": "rect", "color": "#ffffff"}, "encoding": {"x": {"datum": -2.5609, "type": "quantitative", "scale": {"domain": [1, 40], "nice": false, "zero": false}, "axis": {"zindex": 1, "values": [2,4,6,8,10,12,14,16,18,20,22,24,26,28,30,32,34,36,38,40], "title": "Cycles"}}, "x2": {"datum": 40.3391}, "y": {"datum": 3.2474, "type": "quantitative", "scale": {"type": "log", "domain": [0.00307, 3.07], "nice": false}, "axis": {"zindex": 1, "values": [0.01, 0.1, 1], "format": "~g", "title": "Fluorescence (dRn)"}}, "y2": {"datum": 0.0014796}}},
    {"data": {"values": [{}]}, "mark": {"type": "rect", "color": "#9bc9da"}, "encoding": {"x": {"datum": 1, "type": "quantitative", "scale": {"domain": [1, 40], "nice": false, "zero": false}, "axis": {"zindex": 1, "values": [2,4,6,8,10,12,14,16,18,20,22,24,26,28,30,32,34,36,38,40], "title": "Cycles"}}, "x2": {"datum": 40}, "y": {"datum": 3.07, "type": "quantitative", "scale": {"type": "log", "domain": [0.00307, 3.07], "nice": false}, "axis": {"zindex": 1, "values": [0.01, 0.1, 1], "format": "~g", "title": "Fluorescence (dRn)"}}, "y2": {"datum": 0.00307}}},
    {"data": {"values": [{}]}, "mark": {"type": "rule", "color": "#9a9f78", "strokeWidth": 3}, "encoding": {"y": {"datum": 0.064, "type": "quantitative", "scale": {"type": "log", "domain": [0.00307, 3.07], "nice": false}, "axis": {"zindex": 1, "values": [0.01, 0.1, 1], "format": "~g", "title": "Fluorescence (dRn)"}}}},
    {"data": {"values": [{}]}, "mark": {"type": "text", "text": "Amplification Plots", "color": "#d8c61e", "font": "Liberation Sans", "fontSize": 5.5, "align": "center", "baseline": "middle"}, "encoding": {"x": {"datum": 18.889, "type": "quantitative", "scale": {"domain": [1, 40], "nice": false, "zero": false}, "axis": {"zindex": 1, "values": [2,4,6,8,10,12,14,16,18,20,22,24,26,28,30,32,34,36,38,40], "title": "Cycles"}}, "y": {"datum": 5.3834, "type": "quantitative", "scale": {"type": "log", "domain": [0.00307, 3.07], "nice": false}, "axis": {"zindex": 1, "values": [0.01, 0.1, 1], "format": "~g", "title": "Fluorescence (dRn)"}}}},
    {"data": {"name": "ampET"}, "mark": {"type": "line", "clip": true, "strokeWidth": 1}, "encoding": {"x": {"field": "x", "type": "quantitative", "scale": {"domain": [1, 40], "nice": false, "zero": false}, "axis": {"zindex": 1, "values": [2,4,6,8,10,12,14,16,18,20,22,24,26,28,30,32,34,36,38,40], "title": "Cycles"}}, "y": {"field": "y", "type": "quantitative", "scale": {"type": "log", "domain": [0.00307, 3.07], "nice": false}, "axis": {"zindex": 1, "values": [0.01, 0.1, 1], "format": "~g", "title": "Fluorescence (dRn)"}}, "color": {"field": "g", "type": "nominal", "title": null, "scale": {"domain": ["mPPET1", "hPPET1", "PPET1"], "range": ["#2c48a8", "#c01010", "#14a040"]}}, "detail": {"field": "r"}}},
    {"data": {"name": "ampET"}, "mark": {"type": "square", "clip": true, "size": 6, "opacity": 1}, "encoding": {"x": {"field": "x", "type": "quantitative", "scale": {"domain": [1, 40], "nice": false, "zero": false}, "axis": {"zindex": 1, "values": [2,4,6,8,10,12,14,16,18,20,22,24,26,28,30,32,34,36,38,40], "title": "Cycles"}}, "y": {"field": "y", "type": "quantitative", "scale": {"type": "log", "domain": [0.00307, 3.07], "nice": false}, "axis": {"zindex": 1, "values": [0.01, 0.1, 1], "format": "~g", "title": "Fluorescence (dRn)"}}, "color": {"field": "g", "type": "nominal", "title": null, "scale": {"domain": ["mPPET1", "hPPET1", "PPET1"], "range": ["#2c48a8", "#c01010", "#14a040"]}}}}
   ]},
   {"title": {"text": "Dissociation curve", "offset": 10}, "width": 230, "height": 123, "layer": [
    {"data": {"values": [{}]}, "mark": {"type": "rect", "color": "#707070"}, "encoding": {"x": {"datum": 53.4891, "type": "quantitative", "scale": {"domain": [59, 98], "nice": false, "zero": false}, "axis": {"zindex": 1, "values": [60,62,64,66,68,70,72,74,76,78,80,82,84,86,88,90,92,94,96,98], "title": "Temperature (°C)"}}, "x2": {"datum": 100.5435}, "y": {"datum": 7723.8, "type": "quantitative", "scale": {"domain": [-750, 6590], "nice": false, "zero": false}, "axis": {"zindex": 1, "values": [0,1000,2000,3000,4000,5000,6000], "title": "Derivative Reporter (-Rn')"}}, "y2": {"datum": -2062.9}}},
    {"data": {"values": [{}]}, "mark": {"type": "rect", "color": "#ffffff"}, "encoding": {"x": {"datum": 55.2696, "type": "quantitative", "scale": {"domain": [59, 98], "nice": false, "zero": false}, "axis": {"zindex": 1, "values": [60,62,64,66,68,70,72,74,76,78,80,82,84,86,88,90,92,94,96,98], "title": "Temperature (°C)"}}, "x2": {"datum": 98.1696}, "y": {"datum": 6649.7, "type": "quantitative", "scale": {"domain": [-750, 6590], "nice": false, "zero": false}, "axis": {"zindex": 1, "values": [0,1000,2000,3000,4000,5000,6000], "title": "Derivative Reporter (-Rn')"}}, "y2": {"datum": -1525.8}}},
    {"data": {"values": [{}]}, "mark": {"type": "rect", "color": "#9bc9da"}, "encoding": {"x": {"datum": 59, "type": "quantitative", "scale": {"domain": [59, 98], "nice": false, "zero": false}, "axis": {"zindex": 1, "values": [60,62,64,66,68,70,72,74,76,78,80,82,84,86,88,90,92,94,96,98], "title": "Temperature (°C)"}}, "x2": {"datum": 98}, "y": {"datum": 6590, "type": "quantitative", "scale": {"domain": [-750, 6590], "nice": false, "zero": false}, "axis": {"zindex": 1, "values": [0,1000,2000,3000,4000,5000,6000], "title": "Derivative Reporter (-Rn')"}}, "y2": {"datum": -750}}},
    {"data": {"values": [{}]}, "mark": {"type": "text", "text": "Dissociation Curve", "color": "#d8c61e", "font": "Liberation Sans", "fontSize": 5.5, "align": "center", "baseline": "middle"}, "encoding": {"x": {"datum": 76.72, "type": "quantitative", "scale": {"domain": [59, 98], "nice": false, "zero": false}, "axis": {"zindex": 1, "values": [60,62,64,66,68,70,72,74,76,78,80,82,84,86,88,90,92,94,96,98], "title": "Temperature (°C)"}}, "y": {"datum": 7186.8, "type": "quantitative", "scale": {"domain": [-750, 6590], "nice": false, "zero": false}, "axis": {"zindex": 1, "values": [0,1000,2000,3000,4000,5000,6000], "title": "Derivative Reporter (-Rn')"}}}},
    {"data": {"name": "disET"}, "mark": {"type": "line", "clip": true, "strokeWidth": 1}, "encoding": {"x": {"field": "x", "type": "quantitative", "scale": {"domain": [59, 98], "nice": false, "zero": false}, "axis": {"zindex": 1, "values": [60,62,64,66,68,70,72,74,76,78,80,82,84,86,88,90,92,94,96,98], "title": "Temperature (°C)"}}, "y": {"field": "y", "type": "quantitative", "scale": {"domain": [-750, 6590], "nice": false, "zero": false}, "axis": {"zindex": 1, "values": [0,1000,2000,3000,4000,5000,6000], "title": "Derivative Reporter (-Rn')"}}, "color": {"field": "g", "type": "nominal", "title": null, "scale": {"domain": ["mPPET1", "hPPET1", "PPET1"], "range": ["#2c48a8", "#c01010", "#14a040"]}}, "detail": {"field": "r"}}},
    {"data": {"name": "disET"}, "mark": {"type": "square", "clip": true, "size": 6, "opacity": 1}, "encoding": {"x": {"field": "x", "type": "quantitative", "scale": {"domain": [59, 98], "nice": false, "zero": false}, "axis": {"zindex": 1, "values": [60,62,64,66,68,70,72,74,76,78,80,82,84,86,88,90,92,94,96,98], "title": "Temperature (°C)"}}, "y": {"field": "y", "type": "quantitative", "scale": {"domain": [-750, 6590], "nice": false, "zero": false}, "axis": {"zindex": 1, "values": [0,1000,2000,3000,4000,5000,6000], "title": "Derivative Reporter (-Rn')"}}, "color": {"field": "g", "type": "nominal", "title": null, "scale": {"domain": ["mPPET1", "hPPET1", "PPET1"], "range": ["#2c48a8", "#c01010", "#14a040"]}}}}
   ]}
  ]}
 ]},
 {"spacing": 9, "hconcat": [
  {"title": {"text": "eNOS-/-", "orient": "bottom", "anchor": "start", "dx": 4, "offset": 1}, "spacing": 0, "hconcat": [
   {"width": 230, "height": 123, "layer": [
    {"data": {"values": [{}]}, "mark": {"type": "rect", "color": "#707070"}, "encoding": {"x": {"datum": -4.5957, "type": "quantitative", "scale": {"domain": [1, 40], "nice": false, "zero": false}, "axis": {"zindex": 1, "values": [2,4,6,8,10,12,14,16,18,20,22,24,26,28,30,32,34,36,38,40], "title": "Cycles"}}, "x2": {"datum": 42.1196}, "y": {"datum": 8.9236, "type": "quantitative", "scale": {"type": "log", "domain": [0.00307, 3.07], "nice": false}, "axis": {"zindex": 1, "values": [0.01, 0.1, 1], "format": "~g", "title": "Fluorescence (dRn)"}}, "y2": {"datum": 0.00089236}}},
    {"data": {"values": [{}]}, "mark": {"type": "rect", "color": "#ffffff"}, "encoding": {"x": {"datum": -2.5609, "type": "quantitative", "scale": {"domain": [1, 40], "nice": false, "zero": false}, "axis": {"zindex": 1, "values": [2,4,6,8,10,12,14,16,18,20,22,24,26,28,30,32,34,36,38,40], "title": "Cycles"}}, "x2": {"datum": 40.3391}, "y": {"datum": 3.2474, "type": "quantitative", "scale": {"type": "log", "domain": [0.00307, 3.07], "nice": false}, "axis": {"zindex": 1, "values": [0.01, 0.1, 1], "format": "~g", "title": "Fluorescence (dRn)"}}, "y2": {"datum": 0.0014796}}},
    {"data": {"values": [{}]}, "mark": {"type": "rect", "color": "#9bc9da"}, "encoding": {"x": {"datum": 1, "type": "quantitative", "scale": {"domain": [1, 40], "nice": false, "zero": false}, "axis": {"zindex": 1, "values": [2,4,6,8,10,12,14,16,18,20,22,24,26,28,30,32,34,36,38,40], "title": "Cycles"}}, "x2": {"datum": 40}, "y": {"datum": 3.07, "type": "quantitative", "scale": {"type": "log", "domain": [0.00307, 3.07], "nice": false}, "axis": {"zindex": 1, "values": [0.01, 0.1, 1], "format": "~g", "title": "Fluorescence (dRn)"}}, "y2": {"datum": 0.00307}}},
    {"data": {"values": [{}]}, "mark": {"type": "rule", "color": "#9a9f78", "strokeWidth": 3}, "encoding": {"y": {"datum": 0.079, "type": "quantitative", "scale": {"type": "log", "domain": [0.00307, 3.07], "nice": false}, "axis": {"zindex": 1, "values": [0.01, 0.1, 1], "format": "~g", "title": "Fluorescence (dRn)"}}}},
    {"data": {"values": [{}]}, "mark": {"type": "text", "text": "Amplification Plots", "color": "#d8c61e", "font": "Liberation Sans", "fontSize": 5.5, "align": "center", "baseline": "middle"}, "encoding": {"x": {"datum": 18.889, "type": "quantitative", "scale": {"domain": [1, 40], "nice": false, "zero": false}, "axis": {"zindex": 1, "values": [2,4,6,8,10,12,14,16,18,20,22,24,26,28,30,32,34,36,38,40], "title": "Cycles"}}, "y": {"datum": 5.3834, "type": "quantitative", "scale": {"type": "log", "domain": [0.00307, 3.07], "nice": false}, "axis": {"zindex": 1, "values": [0.01, 0.1, 1], "format": "~g", "title": "Fluorescence (dRn)"}}}},
    {"data": {"name": "ampENOS"}, "mark": {"type": "line", "clip": true, "strokeWidth": 1}, "encoding": {"x": {"field": "x", "type": "quantitative", "scale": {"domain": [1, 40], "nice": false, "zero": false}, "axis": {"zindex": 1, "values": [2,4,6,8,10,12,14,16,18,20,22,24,26,28,30,32,34,36,38,40], "title": "Cycles"}}, "y": {"field": "y", "type": "quantitative", "scale": {"type": "log", "domain": [0.00307, 3.07], "nice": false}, "axis": {"zindex": 1, "values": [0.01, 0.1, 1], "format": "~g", "title": "Fluorescence (dRn)"}}, "color": {"field": "g", "type": "nominal", "title": null, "scale": {"domain": ["mPPET1", "hPPET1", "PPET1"], "range": ["#2c48a8", "#c01010", "#14a040"]}}, "detail": {"field": "r"}}},
    {"data": {"name": "ampENOS"}, "mark": {"type": "square", "clip": true, "size": 6, "opacity": 1}, "encoding": {"x": {"field": "x", "type": "quantitative", "scale": {"domain": [1, 40], "nice": false, "zero": false}, "axis": {"zindex": 1, "values": [2,4,6,8,10,12,14,16,18,20,22,24,26,28,30,32,34,36,38,40], "title": "Cycles"}}, "y": {"field": "y", "type": "quantitative", "scale": {"type": "log", "domain": [0.00307, 3.07], "nice": false}, "axis": {"zindex": 1, "values": [0.01, 0.1, 1], "format": "~g", "title": "Fluorescence (dRn)"}}, "color": {"field": "g", "type": "nominal", "title": null, "scale": {"domain": ["mPPET1", "hPPET1", "PPET1"], "range": ["#2c48a8", "#c01010", "#14a040"]}}}}
   ]},
   {"width": 230, "height": 123, "layer": [
    {"data": {"values": [{}]}, "mark": {"type": "rect", "color": "#707070"}, "encoding": {"x": {"datum": 53.4891, "type": "quantitative", "scale": {"domain": [59, 98], "nice": false, "zero": false}, "axis": {"zindex": 1, "values": [60,62,64,66,68,70,72,74,76,78,80,82,84,86,88,90,92,94,96,98], "title": "Temperature (°C)"}}, "x2": {"datum": 100.5435}, "y": {"datum": 7047.2, "type": "quantitative", "scale": {"domain": [-480, 6040], "nice": false, "zero": false}, "axis": {"zindex": 1, "values": [0,1000,2000,3000,4000,5000,6000], "title": "Derivative Reporter (-Rn')"}}, "y2": {"datum": -1646.2}}},
    {"data": {"values": [{}]}, "mark": {"type": "rect", "color": "#ffffff"}, "encoding": {"x": {"datum": 55.2696, "type": "quantitative", "scale": {"domain": [59, 98], "nice": false, "zero": false}, "axis": {"zindex": 1, "values": [60,62,64,66,68,70,72,74,76,78,80,82,84,86,88,90,92,94,96,98], "title": "Temperature (°C)"}}, "x2": {"datum": 98.1696}, "y": {"datum": 6093, "type": "quantitative", "scale": {"domain": [-480, 6040], "nice": false, "zero": false}, "axis": {"zindex": 1, "values": [0,1000,2000,3000,4000,5000,6000], "title": "Derivative Reporter (-Rn')"}}, "y2": {"datum": -1169.1}}},
    {"data": {"values": [{}]}, "mark": {"type": "rect", "color": "#9bc9da"}, "encoding": {"x": {"datum": 59, "type": "quantitative", "scale": {"domain": [59, 98], "nice": false, "zero": false}, "axis": {"zindex": 1, "values": [60,62,64,66,68,70,72,74,76,78,80,82,84,86,88,90,92,94,96,98], "title": "Temperature (°C)"}}, "x2": {"datum": 98}, "y": {"datum": 6040, "type": "quantitative", "scale": {"domain": [-480, 6040], "nice": false, "zero": false}, "axis": {"zindex": 1, "values": [0,1000,2000,3000,4000,5000,6000], "title": "Derivative Reporter (-Rn')"}}, "y2": {"datum": -480}}},
    {"data": {"values": [{}]}, "mark": {"type": "text", "text": "Dissociation Curve", "color": "#d8c61e", "font": "Liberation Sans", "fontSize": 5.5, "align": "center", "baseline": "middle"}, "encoding": {"x": {"datum": 76.72, "type": "quantitative", "scale": {"domain": [59, 98], "nice": false, "zero": false}, "axis": {"zindex": 1, "values": [60,62,64,66,68,70,72,74,76,78,80,82,84,86,88,90,92,94,96,98], "title": "Temperature (°C)"}}, "y": {"datum": 6570.1, "type": "quantitative", "scale": {"domain": [-480, 6040], "nice": false, "zero": false}, "axis": {"zindex": 1, "values": [0,1000,2000,3000,4000,5000,6000], "title": "Derivative Reporter (-Rn')"}}}},
    {"data": {"name": "disENOS"}, "mark": {"type": "line", "clip": true, "strokeWidth": 1}, "encoding": {"x": {"field": "x", "type": "quantitative", "scale": {"domain": [59, 98], "nice": false, "zero": false}, "axis": {"zindex": 1, "values": [60,62,64,66,68,70,72,74,76,78,80,82,84,86,88,90,92,94,96,98], "title": "Temperature (°C)"}}, "y": {"field": "y", "type": "quantitative", "scale": {"domain": [-480, 6040], "nice": false, "zero": false}, "axis": {"zindex": 1, "values": [0,1000,2000,3000,4000,5000,6000], "title": "Derivative Reporter (-Rn')"}}, "color": {"field": "g", "type": "nominal", "title": null, "scale": {"domain": ["mPPET1", "hPPET1", "PPET1"], "range": ["#2c48a8", "#c01010", "#14a040"]}}, "detail": {"field": "r"}}},
    {"data": {"name": "disENOS"}, "mark": {"type": "square", "clip": true, "size": 6, "opacity": 1}, "encoding": {"x": {"field": "x", "type": "quantitative", "scale": {"domain": [59, 98], "nice": false, "zero": false}, "axis": {"zindex": 1, "values": [60,62,64,66,68,70,72,74,76,78,80,82,84,86,88,90,92,94,96,98], "title": "Temperature (°C)"}}, "y": {"field": "y", "type": "quantitative", "scale": {"domain": [-480, 6040], "nice": false, "zero": false}, "axis": {"zindex": 1, "values": [0,1000,2000,3000,4000,5000,6000], "title": "Derivative Reporter (-Rn')"}}, "color": {"field": "g", "type": "nominal", "title": null, "scale": {"domain": ["mPPET1", "hPPET1", "PPET1"], "range": ["#2c48a8", "#c01010", "#14a040"]}}}}
   ]}
  ]},
  {"title": {"text": "ET+/+eNOS-/-", "orient": "bottom", "anchor": "start", "dx": 4, "offset": 1}, "spacing": 0, "hconcat": [
   {"width": 230, "height": 123, "layer": [
    {"data": {"values": [{}]}, "mark": {"type": "rect", "color": "#707070"}, "encoding": {"x": {"datum": -4.5957, "type": "quantitative", "scale": {"domain": [1, 40], "nice": false, "zero": false}, "axis": {"zindex": 1, "values": [2,4,6,8,10,12,14,16,18,20,22,24,26,28,30,32,34,36,38,40], "title": "Cycles"}}, "x2": {"datum": 42.1196}, "y": {"datum": 8.9236, "type": "quantitative", "scale": {"type": "log", "domain": [0.00307, 3.07], "nice": false}, "axis": {"zindex": 1, "values": [0.01, 0.1, 1], "format": "~g", "title": "Fluorescence (dRn)"}}, "y2": {"datum": 0.00089236}}},
    {"data": {"values": [{}]}, "mark": {"type": "rect", "color": "#ffffff"}, "encoding": {"x": {"datum": -2.5609, "type": "quantitative", "scale": {"domain": [1, 40], "nice": false, "zero": false}, "axis": {"zindex": 1, "values": [2,4,6,8,10,12,14,16,18,20,22,24,26,28,30,32,34,36,38,40], "title": "Cycles"}}, "x2": {"datum": 40.3391}, "y": {"datum": 3.2474, "type": "quantitative", "scale": {"type": "log", "domain": [0.00307, 3.07], "nice": false}, "axis": {"zindex": 1, "values": [0.01, 0.1, 1], "format": "~g", "title": "Fluorescence (dRn)"}}, "y2": {"datum": 0.0014796}}},
    {"data": {"values": [{}]}, "mark": {"type": "rect", "color": "#9bc9da"}, "encoding": {"x": {"datum": 1, "type": "quantitative", "scale": {"domain": [1, 40], "nice": false, "zero": false}, "axis": {"zindex": 1, "values": [2,4,6,8,10,12,14,16,18,20,22,24,26,28,30,32,34,36,38,40], "title": "Cycles"}}, "x2": {"datum": 40}, "y": {"datum": 3.07, "type": "quantitative", "scale": {"type": "log", "domain": [0.00307, 3.07], "nice": false}, "axis": {"zindex": 1, "values": [0.01, 0.1, 1], "format": "~g", "title": "Fluorescence (dRn)"}}, "y2": {"datum": 0.00307}}},
    {"data": {"values": [{}]}, "mark": {"type": "rule", "color": "#9a9f78", "strokeWidth": 3}, "encoding": {"y": {"datum": 0.066, "type": "quantitative", "scale": {"type": "log", "domain": [0.00307, 3.07], "nice": false}, "axis": {"zindex": 1, "values": [0.01, 0.1, 1], "format": "~g", "title": "Fluorescence (dRn)"}}}},
    {"data": {"values": [{}]}, "mark": {"type": "text", "text": "Amplification Plots", "color": "#d8c61e", "font": "Liberation Sans", "fontSize": 5.5, "align": "center", "baseline": "middle"}, "encoding": {"x": {"datum": 18.889, "type": "quantitative", "scale": {"domain": [1, 40], "nice": false, "zero": false}, "axis": {"zindex": 1, "values": [2,4,6,8,10,12,14,16,18,20,22,24,26,28,30,32,34,36,38,40], "title": "Cycles"}}, "y": {"datum": 5.3834, "type": "quantitative", "scale": {"type": "log", "domain": [0.00307, 3.07], "nice": false}, "axis": {"zindex": 1, "values": [0.01, 0.1, 1], "format": "~g", "title": "Fluorescence (dRn)"}}}},
    {"data": {"name": "ampETE"}, "mark": {"type": "line", "clip": true, "strokeWidth": 1}, "encoding": {"x": {"field": "x", "type": "quantitative", "scale": {"domain": [1, 40], "nice": false, "zero": false}, "axis": {"zindex": 1, "values": [2,4,6,8,10,12,14,16,18,20,22,24,26,28,30,32,34,36,38,40], "title": "Cycles"}}, "y": {"field": "y", "type": "quantitative", "scale": {"type": "log", "domain": [0.00307, 3.07], "nice": false}, "axis": {"zindex": 1, "values": [0.01, 0.1, 1], "format": "~g", "title": "Fluorescence (dRn)"}}, "color": {"field": "g", "type": "nominal", "title": null, "scale": {"domain": ["mPPET1", "hPPET1", "PPET1"], "range": ["#2c48a8", "#c01010", "#14a040"]}}, "detail": {"field": "r"}}},
    {"data": {"name": "ampETE"}, "mark": {"type": "square", "clip": true, "size": 6, "opacity": 1}, "encoding": {"x": {"field": "x", "type": "quantitative", "scale": {"domain": [1, 40], "nice": false, "zero": false}, "axis": {"zindex": 1, "values": [2,4,6,8,10,12,14,16,18,20,22,24,26,28,30,32,34,36,38,40], "title": "Cycles"}}, "y": {"field": "y", "type": "quantitative", "scale": {"type": "log", "domain": [0.00307, 3.07], "nice": false}, "axis": {"zindex": 1, "values": [0.01, 0.1, 1], "format": "~g", "title": "Fluorescence (dRn)"}}, "color": {"field": "g", "type": "nominal", "title": null, "scale": {"domain": ["mPPET1", "hPPET1", "PPET1"], "range": ["#2c48a8", "#c01010", "#14a040"]}}}}
   ]},
   {"width": 230, "height": 123, "layer": [
    {"data": {"values": [{}]}, "mark": {"type": "rect", "color": "#707070"}, "encoding": {"x": {"datum": 53.4891, "type": "quantitative", "scale": {"domain": [59, 98], "nice": false, "zero": false}, "axis": {"zindex": 1, "values": [60,62,64,66,68,70,72,74,76,78,80,82,84,86,88,90,92,94,96,98], "title": "Temperature (°C)"}}, "x2": {"datum": 100.5435}, "y": {"datum": 7413.6, "type": "quantitative", "scale": {"domain": [-610, 6340], "nice": false, "zero": false}, "axis": {"zindex": 1, "values": [0,1000,2000,3000,4000,5000,6000], "title": "Derivative Reporter (-Rn')"}}, "y2": {"datum": -1853.1}}},
    {"data": {"values": [{}]}, "mark": {"type": "rect", "color": "#ffffff"}, "encoding": {"x": {"datum": 55.2696, "type": "quantitative", "scale": {"domain": [59, 98], "nice": false, "zero": false}, "axis": {"zindex": 1, "values": [60,62,64,66,68,70,72,74,76,78,80,82,84,86,88,90,92,94,96,98], "title": "Temperature (°C)"}}, "x2": {"datum": 98.1696}, "y": {"datum": 6396.5, "type": "quantitative", "scale": {"domain": [-610, 6340], "nice": false, "zero": false}, "axis": {"zindex": 1, "values": [0,1000,2000,3000,4000,5000,6000], "title": "Derivative Reporter (-Rn')"}}, "y2": {"datum": -1344.6}}},
    {"data": {"values": [{}]}, "mark": {"type": "rect", "color": "#9bc9da"}, "encoding": {"x": {"datum": 59, "type": "quantitative", "scale": {"domain": [59, 98], "nice": false, "zero": false}, "axis": {"zindex": 1, "values": [60,62,64,66,68,70,72,74,76,78,80,82,84,86,88,90,92,94,96,98], "title": "Temperature (°C)"}}, "x2": {"datum": 98}, "y": {"datum": 6340, "type": "quantitative", "scale": {"domain": [-610, 6340], "nice": false, "zero": false}, "axis": {"zindex": 1, "values": [0,1000,2000,3000,4000,5000,6000], "title": "Derivative Reporter (-Rn')"}}, "y2": {"datum": -610}}},
    {"data": {"values": [{}]}, "mark": {"type": "text", "text": "Dissociation Curve", "color": "#d8c61e", "font": "Liberation Sans", "fontSize": 5.5, "align": "center", "baseline": "middle"}, "encoding": {"x": {"datum": 76.72, "type": "quantitative", "scale": {"domain": [59, 98], "nice": false, "zero": false}, "axis": {"zindex": 1, "values": [60,62,64,66,68,70,72,74,76,78,80,82,84,86,88,90,92,94,96,98], "title": "Temperature (°C)"}}, "y": {"datum": 6905, "type": "quantitative", "scale": {"domain": [-610, 6340], "nice": false, "zero": false}, "axis": {"zindex": 1, "values": [0,1000,2000,3000,4000,5000,6000], "title": "Derivative Reporter (-Rn')"}}}},
    {"data": {"name": "disETE"}, "mark": {"type": "line", "clip": true, "strokeWidth": 1}, "encoding": {"x": {"field": "x", "type": "quantitative", "scale": {"domain": [59, 98], "nice": false, "zero": false}, "axis": {"zindex": 1, "values": [60,62,64,66,68,70,72,74,76,78,80,82,84,86,88,90,92,94,96,98], "title": "Temperature (°C)"}}, "y": {"field": "y", "type": "quantitative", "scale": {"domain": [-610, 6340], "nice": false, "zero": false}, "axis": {"zindex": 1, "values": [0,1000,2000,3000,4000,5000,6000], "title": "Derivative Reporter (-Rn')"}}, "color": {"field": "g", "type": "nominal", "title": null, "scale": {"domain": ["mPPET1", "hPPET1", "PPET1"], "range": ["#2c48a8", "#c01010", "#14a040"]}}, "detail": {"field": "r"}}},
    {"data": {"name": "disETE"}, "mark": {"type": "square", "clip": true, "size": 6, "opacity": 1}, "encoding": {"x": {"field": "x", "type": "quantitative", "scale": {"domain": [59, 98], "nice": false, "zero": false}, "axis": {"zindex": 1, "values": [60,62,64,66,68,70,72,74,76,78,80,82,84,86,88,90,92,94,96,98], "title": "Temperature (°C)"}}, "y": {"field": "y", "type": "quantitative", "scale": {"domain": [-610, 6340], "nice": false, "zero": false}, "axis": {"zindex": 1, "values": [0,1000,2000,3000,4000,5000,6000], "title": "Derivative Reporter (-Rn')"}}, "color": {"field": "g", "type": "nominal", "title": null, "scale": {"domain": ["mPPET1", "hPPET1", "PPET1"], "range": ["#2c48a8", "#c01010", "#14a040"]}}}}
   ]}
  ]}
 ]}
]
}
